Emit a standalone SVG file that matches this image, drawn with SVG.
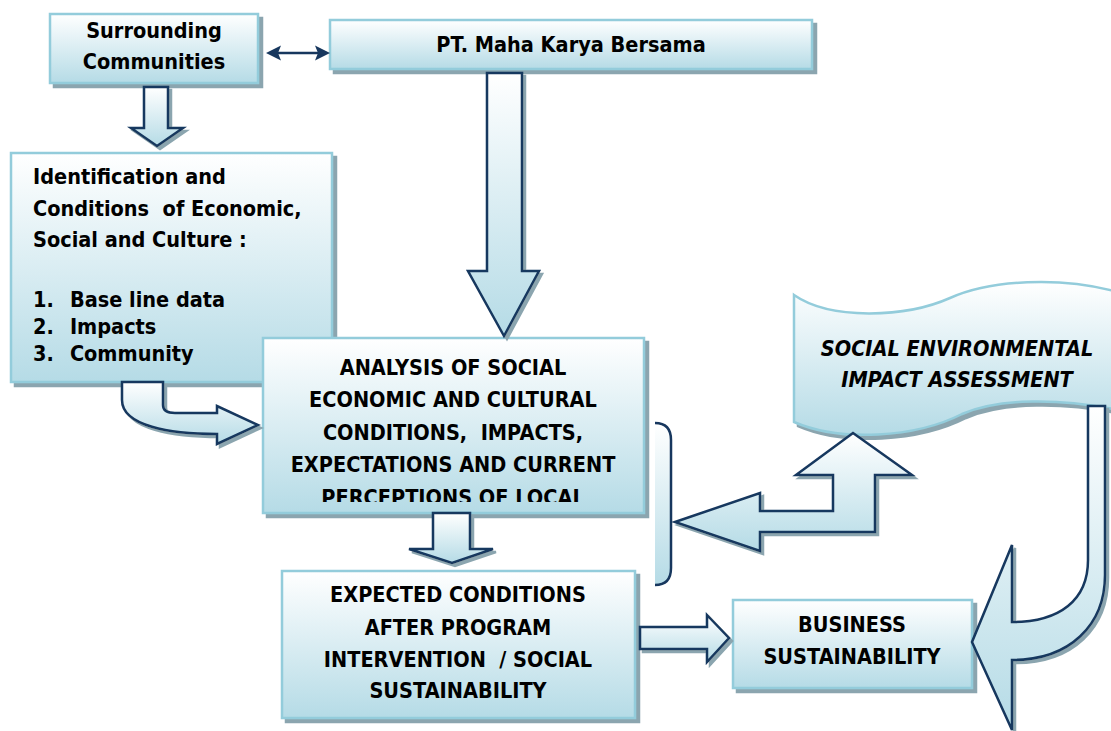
<svg xmlns="http://www.w3.org/2000/svg" width="1111" height="731" viewBox="0 0 1111 731">
  <defs>
    <linearGradient id="boxFill" x1="0" y1="0" x2="0" y2="1">
      <stop offset="0" stop-color="#ffffff"/>
      <stop offset="1" stop-color="#b5dbe6"/>
    </linearGradient>
    <linearGradient id="arrowFill" x1="0" y1="0" x2="0" y2="1">
      <stop offset="0" stop-color="#ffffff"/>
      <stop offset="1" stop-color="#b5dbe6"/>
    </linearGradient>
    <filter id="boxShadow" x="-5%" y="-5%" width="115%" height="120%">
      <feOffset in="SourceAlpha" dx="4" dy="4" result="off"/>
      <feFlood flood-color="#8ba5af"/>
      <feComposite in2="off" operator="in" result="shadow"/>
      <feMerge><feMergeNode in="shadow"/><feMergeNode in="SourceGraphic"/></feMerge>
    </filter>
    <filter id="arrowShadow" x="-10%" y="-10%" width="130%" height="130%">
      <feOffset in="SourceAlpha" dx="3" dy="3" result="off"/>
      <feFlood flood-color="#8ba5af"/>
      <feComposite in2="off" operator="in" result="shadow"/>
      <feMerge><feMergeNode in="shadow"/><feMergeNode in="SourceGraphic"/></feMerge>
    </filter>
    <clipPath id="analysisClip">
      <rect x="263" y="338" width="381" height="164"/>
    </clipPath>
    <style>
      .box { fill: url(#boxFill); stroke: #93ccdb; stroke-width: 2.5; filter: url(#boxShadow); }
      .blk { fill: url(#arrowFill); stroke: #17375e; stroke-width: 2.5; stroke-linejoin: miter; filter: url(#arrowShadow); }
      .t { font-family: "DejaVu Sans", Verdana, sans-serif; font-weight: bold; font-size: 21.5px; fill: #000; }
      .c { text-anchor: middle; }
      .i { font-style: italic; }
      .nav { fill: #17375e; }
    </style>
  </defs>

  <rect width="1111" height="731" fill="#ffffff"/>

  <!-- Surrounding Communities -->
  <g id="surrounding">
    <rect class="box" x="50" y="14" width="208" height="69"/>
    <g transform="translate(154,0) scale(0.9,1)">
      <text class="t c" x="0" y="38">Surrounding</text>
      <text class="t c" x="0" y="69">Communities</text>
    </g>
  </g>

  <!-- PT. Maha Karya Bersama -->
  <g id="company">
    <rect class="box" x="330" y="20" width="482" height="49"/>
    <g transform="translate(571,0) scale(0.9,1)">
      <text class="t c" x="0" y="52">PT. Maha Karya Bersama</text>
    </g>
  </g>

  <!-- Identification list -->
  <g id="identification">
    <rect class="box" x="11" y="153" width="321" height="229"/>
    <g transform="translate(33,0) scale(0.9,1)">
      <text class="t" x="0" y="184">Identification and</text>
      <text class="t" x="0" y="216" xml:space="preserve">Conditions  of Economic,</text>
      <text class="t" x="0" y="247">Social and Culture :</text>
      <text class="t" x="0" y="307">1.</text><text class="t" x="41" y="307">Base line data</text>
      <text class="t" x="0" y="334">2.</text><text class="t" x="41" y="334">Impacts</text>
      <text class="t" x="0" y="361">3.</text><text class="t" x="41" y="361">Community</text>
    </g>
  </g>

  <!-- Analysis -->
  <g id="analysis">
    <rect class="box" x="263" y="338" width="381" height="175"/>
    <g clip-path="url(#analysisClip)">
      <g transform="translate(453,0) scale(0.9,1)">
        <text class="t c" x="0" y="375">ANALYSIS OF SOCIAL</text>
        <text class="t c" x="0" y="407">ECONOMIC AND CULTURAL</text>
        <text class="t c" x="0" y="440" xml:space="preserve">CONDITIONS,  IMPACTS,</text>
        <text class="t c" x="0" y="472">EXPECTATIONS AND CURRENT</text>
        <text class="t c" x="0" y="505">PERCEPTIONS OF LOCAL</text>
      </g>
    </g>
  </g>

  <!-- Expected conditions -->
  <g id="expected">
    <rect class="box" x="282" y="571" width="353" height="147"/>
    <g transform="translate(458,0) scale(0.9,1)">
      <text class="t c" x="0" y="602">EXPECTED CONDITIONS</text>
      <text class="t c" x="0" y="635">AFTER PROGRAM</text>
      <text class="t c" x="0" y="667" xml:space="preserve">INTERVENTION  / SOCIAL</text>
      <text class="t c" x="0" y="698">SUSTAINABILITY</text>
    </g>
  </g>

  <!-- Business sustainability -->
  <g id="business">
    <rect class="box" x="733" y="600" width="239" height="88"/>
    <g transform="translate(852,0) scale(0.9,1)">
      <text class="t c" x="0" y="632">BUSINESS</text>
      <text class="t c" x="0" y="664">SUSTAINABILITY</text>
    </g>
  </g>

  <!-- Social environmental impact assessment banner -->
  <g id="seia">
    <path class="box" d="M794,295 C830,320 905,318 950,298 C990,280 1060,276 1118,292 L1118,410 C1060,398 1000,398 962,414 C915,438 840,442 794,422 Z"/>
    <g transform="translate(957,0) scale(0.9,1)">
      <text class="t c i" x="0" y="356">SOCIAL ENVIRONMENTAL</text>
      <text class="t c i" x="0" y="387">IMPACT ASSESSMENT</text>
    </g>
  </g>

  <!-- Connectors -->
  <g id="connectors">
    <!-- two-way link between communities and company -->
    <line x1="276" y1="53" x2="320" y2="53" stroke="#17375e" stroke-width="2.5"/>
    <polygon class="nav" points="266,53 281,45.5 278,53 281,60.5"/>
    <polygon class="nav" points="330,53 315,45.5 318,53 315,60.5"/>

    <!-- communities to identification -->
    <path class="blk" d="M144,87 L168,87 L168,128 L183,128 L157,146 L131,128 L144,128 Z"/>

    <!-- company to analysis -->
    <path class="blk" d="M487,73 L522,73 L522,271 L539,271 L504,336 L468,271 L487,271 Z"/>

    <!-- identification to analysis (bent) -->
    <path class="blk" d="M122,382 L163,382 L163,405 Q163,413 175,413 L217,413 L217,406 L258,425 L217,444 L217,434 C170,434 122,426 122,400 Z"/>

    <!-- analysis to expected -->
    <path class="blk" d="M433,513 L470,513 L470,549 L493,549 L452,563 L409,549 L433,549 Z"/>

    <!-- expected to business -->
    <path class="blk" d="M640,627 L707,627 L707,615 L729,638 L707,662 L707,649 L640,649 Z"/>

    <!-- bracket grouping analysis and expected -->
    <path d="M655,423 Q671,423 671,440 L671,568 Q671,585 655,585 Z" fill="url(#arrowFill)"/>
    <path d="M655,423 Q671,423 671,440 L671,568 Q671,585 655,585" fill="none" stroke="#17375e" stroke-width="2.5"/>

    <!-- two-way link between bracket and assessment -->
    <path class="blk" d="M675,522 L760,493 L760,511 L833,511 L833,475 L796,475 L853,433 L912,475 L875,475 L875,532 L760,532 L760,551 Z"/>

    <!-- assessment to business (U-turn) -->
    <path class="blk" d="M1088,406 L1105,406 L1105,575 C1105,625 1070,660 1012,660 L1012,730 L972,642 L1012,545 L1012,622 C1060,622 1088,600 1088,560 Z"/>
  </g>
</svg>
